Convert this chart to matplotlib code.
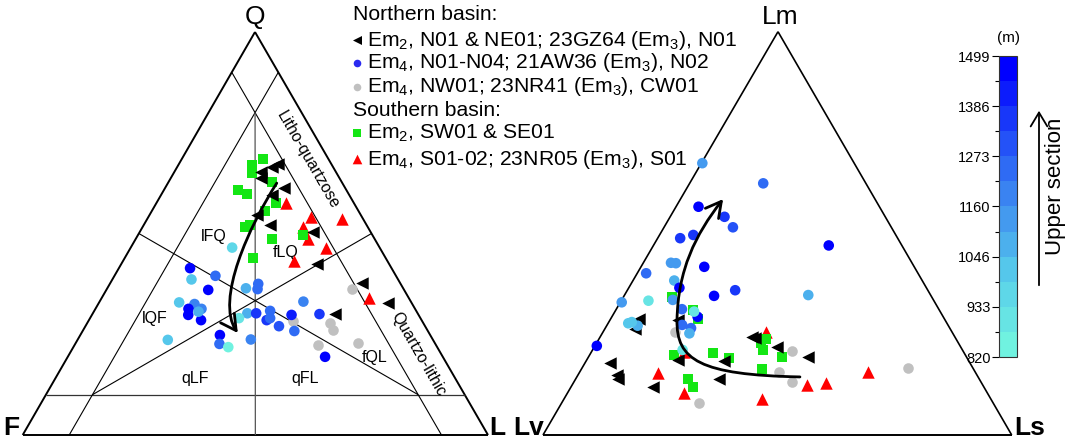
import numpy as np
import matplotlib
matplotlib.use("Agg")
import matplotlib.pyplot as plt
from matplotlib.path import Path
from matplotlib.patches import FancyArrowPatch
from matplotlib.colors import LinearSegmentedColormap, ListedColormap, BoundaryNorm
import matplotlib.colorbar as mcolorbar

plt.rcParams['font.family'] = ['Liberation Sans', 'DejaVu Sans']
plt.rcParams['mathtext.fontset'] = 'custom'
plt.rcParams['mathtext.rm'] = 'Liberation Sans'
plt.rcParams['mathtext.it'] = 'Liberation Sans:italic'
plt.rcParams['mathtext.bf'] = 'Liberation Sans:bold'

# ---------------- data: QFL (Q, F, L in %) ----------------
qfl_em2_north = [(67.2, 11.4, 21.4), (66.6, 13.1, 20.3), (65.3, 16.1, 18.6), (63.7, 16.9, 19.4),
                 (61.2, 13.2, 25.6), (59.6, 16.6, 23.8), (54.6, 22.4, 23.0), (52.1, 20.8, 27.1),
                 (50.4, 12.3, 37.3), (42.4, 15.6, 42.0), (37.6, 8.3, 54.1), (32.7, 5.2, 62.1),
                 (30.0, 17.9, 52.1)]
qfl_em4_north = [(46.5, 31.7, 21.8), (41.4, 43.3, 15.3), (39.5, 38.8, 21.7), (38.6, 44.4, 17.0),
                 (36.0, 42.1, 21.9), (36.4, 33.8, 29.8), (37.5, 30.6, 31.9), (36.2, 31.4, 32.4),
                 (32.9, 49.9, 17.2), (32.5, 46.8, 20.7), (31.3, 48.7, 20.0), (31.3, 45.9, 22.8),
                 (29.8, 49.5, 20.7), (28.5, 47.4, 24.1), (30.6, 46.9, 22.5), (33.1, 23.1, 43.8),
                 (30.2, 36.6, 33.2), (30.2, 34.7, 35.1), (30.8, 31.4, 37.8), (28.5, 33.3, 38.2),
                 (29.0, 32.3, 38.7), (27.0, 31.4, 41.6), (29.8, 27.3, 42.9), (30.0, 21.2, 48.8),
                 (25.8, 28.7, 45.5), (29.0, 39.0, 32.0), (23.6, 57.0, 19.4), (24.8, 45.2, 30.0),
                 (22.6, 46.4, 31.0), (21.8, 44.9, 33.3), (23.7, 39.1, 37.2), (19.4, 25.3, 55.3)]
qfl_em4_north_depth = [950, 1470, 1250, 1020, 1470, 1050, 1250, 1250,
                       1020, 1200, 1470, 1200, 1470, 1470, 1050, 1200,
                       1050, 1380, 1230, 1330, 1250, 1300, 1420, 1330,
                       1250, 930, 1020, 1470, 1270, 860, 1200, 1470]
qfl_em4_nw = [(36.2, 11.0, 52.8), (28.3, 27.7, 44.0), (27.7, 20.1, 52.2), (26.1, 20.2, 53.7),
              (22.3, 25.3, 52.4), (22.8, 16.5, 60.7)]
qfl_em2_south = [(68.5, 14.1, 17.4), (67.0, 17.2, 15.8), (64.9, 18.3, 16.8), (62.9, 15.0, 22.1),
                 (60.8, 23.2, 16.0), (59.7, 22.0, 18.3), (57.5, 16.8, 25.7), (55.6, 20.1, 24.3),
                 (52.1, 25.1, 22.8), (51.7, 26.3, 22.0), (48.6, 22.1, 29.3), (49.6, 14.9, 35.5),
                 (43.9, 28.5, 27.6)]
qfl_em4_south = [(57.5, 14.7, 27.8), (54.2, 10.9, 34.9), (53.6, 4.5, 41.9), (51.7, 13.8, 34.5),
                 (48.6, 14.3, 37.1), (46.3, 11.6, 42.1), (43.2, 20.0, 36.8), (34.1, 8.4, 57.5)]

# ---------------- data: LmLvLs (Lm, Lv, Ls in %) ----------------
lml_em2_north = [(28.7, 65.2, 6.1), (26.2, 67.3, 6.5), (17.8, 76.8, 5.4), (14.9, 76.7, 8.4),
                 (13.8, 77.1, 9.1), (11.8, 70.6, 17.6), (28.5, 56.9, 14.6), (18.6, 62.0, 19.4),
                 (18.4, 52.2, 29.4), (13.8, 55.5, 30.7), (24.4, 43.2, 32.4), (24.0, 42.7, 33.3),
                 (21.9, 39.1, 39.0), (19.3, 33.9, 46.8)]
lml_em4_north = [(67.4, 32.4, 0.2), (62.4, 21.9, 15.7), (56.6, 38.6, 4.8), (54.1, 34.3, 11.6),
                 (51.5, 33.8, 14.7), (48.8, 46.4, 4.8), (49.6, 43.2, 7.2), (47.0, 15.6, 37.4),
                 (42.7, 51.4, 5.9), (42.6, 50.4, 7.0), (40.1, 58.0, 1.9), (41.7, 44.8, 13.5),
                 (38.3, 52.9, 8.8), (36.5, 52.7, 10.8), (35.9, 41.1, 23.0), (34.5, 46.3, 19.2),
                 (34.7, 26.1, 39.2), (32.9, 66.8, 0.3), (33.3, 60.9, 5.8), (33.5, 55.6, 10.9),
                 (31.2, 54.8, 14.0), (29.3, 52.4, 18.3), (30.6, 52.5, 16.9), (27.7, 68.0, 4.3),
                 (27.1, 66.3, 6.6), (28.0, 67.1, 4.9), (27.3, 56.7, 16.0), (26.5, 55.2, 18.3),
                 (25.2, 56.2, 18.6), (22.1, 77.5, 0.4), (21.1, 59.7, 19.2)]
lml_em4_north_depth = [1150, 1250, 1470, 1350, 1300, 1330, 1370, 1470,
                       1150, 1150, 1250, 1470, 1080, 1470, 1380, 1470,
                       1050, 1150, 900, 1150, 1250, 1470, 920, 1020,
                       1050, 1000, 1250, 1250, 1050, 1470, 880]
lml_em4_nw = [(25.6, 59.1, 15.3), (20.8, 36.4, 42.8), (15.7, 41.8, 42.5), (13.2, 40.2, 46.6),
              (16.5, 14.0, 69.5), (7.9, 62.8, 29.3)]
lml_em2_south = [(34.3, 55.3, 10.4), (31.0, 52.5, 16.5), (28.7, 52.7, 18.6), (19.8, 62.2, 18.0),
                 (20.3, 53.7, 26.0), (19.0, 50.8, 30.2), (23.7, 40.7, 35.6), (22.7, 42.2, 35.1),
                 (21.2, 42.4, 36.4), (19.3, 39.3, 41.4), (16.4, 45.1, 38.5), (13.8, 62.1, 24.1),
                 (11.8, 62.1, 26.1)]
lml_em4_south = [(25.6, 39.7, 34.7), (15.3, 67.9, 16.8), (10.5, 64.6, 24.9), (20.7, 59.6, 19.7),
                 (8.9, 48.8, 42.3), (12.4, 37.5, 50.1), (12.8, 33.2, 54.0), (15.7, 22.9, 61.4)]

# trend arrows (ternary control points of Bezier curves)
qfl_trend = [(62.5, 14.1, 23.4), (52.1, 25.1, 22.8), (33.5, 41.9, 24.6), (25.3, 41.1, 33.6)]
lml_trend = [(14.4, 38.0, 47.6), (14.9, 59.1, 26.0), (18.6, 62.3, 19.1), (28.5, 57.2, 14.3),
             (40.9, 50.8, 8.3), (49.6, 42.8, 7.6), (58.5, 32.4, 9.1)]

depth_ticks = [820, 933, 1046, 1160, 1273, 1386, 1499]
legend_labels = [r"Em$_2$, N01 & NE01; 23GZ64 (Em$_3$), N01",
                 r"Em$_4$, N01-N04; 21AW36 (Em$_3$), N02",
                 r"Em$_4$, NW01; 23NR41 (Em$_3$), CW01",
                 r"Em$_2$, SW01 & SE01",
                 r"Em$_4$, S01-02; 23NR05 (Em$_3$), S01"]

# ---------------- layout ----------------
W, H = 1066, 444
fig = plt.figure(figsize=(W / 100, H / 100), dpi=100)
ax = fig.add_axes([0, 0, 1, 1])
ax.set_xlim(0, W)
ax.set_ylim(H, 0)
ax.axis('off')

QFL_V = {'Q': (255.0, 32.0), 'F': (22.7, 435.0), 'L': (488.0, 435.0)}
LML_V = {'Lm': (778.0, 31.7), 'Lv': (543.0, 435.0), 'Ls': (1011.7, 435.0)}


def to_xy(pts, v, keys):
    a = np.atleast_2d(np.asarray(pts, dtype=float))
    a = a / a.sum(axis=1, keepdims=True)
    P = np.array([v[k] for k in keys])
    xy = a @ P
    return xy[:, 0], xy[:, 1]


def qfl(pts):
    return to_xy(pts, QFL_V, ('Q', 'F', 'L'))


def lml(pts):
    return to_xy(pts, LML_V, ('Lm', 'Lv', 'Ls'))


def seg(fn, a, b, **kw):
    x, y = fn([a, b])
    ax.plot(x, y, solid_capstyle='butt', **kw)


# --- QFL frame ---
edge_kw = dict(color='black', lw=1.4)
inner_kw = dict(color='black', lw=0.8)
seg(qfl, (100, 0, 0), (0, 100, 0), **edge_kw)
seg(qfl, (100, 0, 0), (0, 0, 100), **edge_kw)
seg(qfl, (0, 100, 0), (0, 0, 100), **edge_kw)
seg(qfl, (10, 90, 0), (10, 0, 90), color='#333333', lw=0.9)           # Q = 10
seg(qfl, (90, 10, 0), (0, 10, 90), **inner_kw)                         # F = 10
seg(qfl, (90, 0, 10), (0, 90, 10), **inner_kw)                         # L = 10
seg(qfl, (80, 10, 10), (0, 50, 50), color='#555555', lw=0.9)           # F = L
seg(qfl, (50, 50, 0), (10, 10, 80), **inner_kw)                        # Q = F
seg(qfl, (50, 0, 50), (10, 80, 10), **inner_kw)                        # Q = L

# --- LmLvLs frame ---
seg(lml, (100, 0, 0), (0, 100, 0), color='black', lw=1.2)
seg(lml, (100, 0, 0), (0, 0, 100), color='black', lw=1.2)
seg(lml, (0, 100, 0), (0, 0, 100), color='black', lw=1.4)

# --- vertex labels ---
ax.text(255, 17, 'Q', fontsize=19, ha='center', va='center')
ax.text(11, 428, 'F', fontsize=19, fontweight='bold', ha='center', va='center')
ax.text(497, 428, 'L', fontsize=19, fontweight='bold', ha='center', va='center')
ax.text(780, 17, 'Lm', fontsize=19, ha='center', va='center')
ax.text(529, 428, 'Lv', fontsize=19, fontweight='bold', ha='center', va='center')
ax.text(1030, 428, 'Ls', fontsize=19, fontweight='bold', ha='center', va='center')

# --- field labels ---
fld = dict(fontsize=11.5, ha='center', va='center')
ax.text(214, 236, 'lFQ', **fld)
ax.text(286, 252, 'fLQ', **fld)
ax.text(155, 318, 'lQF', **fld)
ax.text(195, 378, 'qLF', **fld)
ax.text(305, 378, 'qFL', **fld)
ax.text(375, 357, 'fQL', **fld)
ax.text(308, 160, 'Litho-quartzose', fontsize=11.5, rotation=-60,
        rotation_mode='anchor', ha='center', va='center')
ax.text(418, 354, 'Quartzo-lithic', fontsize=11.5, rotation=-60,
        rotation_mode='anchor', ha='center', va='center')

# --- colormap ---
base = LinearSegmentedColormap.from_list(
    'depth', [(0.44, 0.95, 0.88), (0.34, 0.80, 0.92), (0.25, 0.56, 0.94),
              (0.13, 0.30, 0.97), (0.0, 0.0, 1.0)])
bounds = np.linspace(depth_ticks[0], depth_ticks[-1], 13)
cmap = ListedColormap([base(i / 11) for i in range(12)])
norm = BoundaryNorm(bounds, cmap.N)

GREEN = '#14e614'
RED = '#ff0000'
GRAY = '#c0c0c0'
ms_c, ms_s, ms_t = 58, 52, 80


def draw(fn, em2n, em4n, depth, nw, em2s, em4s):
    x, y = fn(nw)
    ax.scatter(x, y, s=ms_c, marker='o', color=GRAY, lw=0, zorder=3)
    x, y = fn(em4s)
    ax.scatter(x, y, s=ms_t, marker='^', color=RED, lw=0, zorder=4)
    x, y = fn(em2s)
    ax.scatter(x, y, s=ms_s, marker='s', color=GREEN, lw=0, zorder=5)
    x, y = fn(em2n)
    ax.scatter(x, y, s=ms_t, marker='<', color='black', lw=0, zorder=6)
    x, y = fn(em4n)
    ax.scatter(x, y, s=ms_c, marker='o', c=depth, cmap=cmap, norm=norm, lw=0, zorder=7)


draw(qfl, qfl_em2_north, qfl_em4_north, qfl_em4_north_depth, qfl_em4_nw, qfl_em2_south, qfl_em4_south)
draw(lml, lml_em2_north, lml_em4_north, lml_em4_north_depth, lml_em4_nw, lml_em2_south, lml_em4_south)

# --- trend arrows ---
astyle = '->,head_length=0.55,head_width=0.3'
x, y = qfl(qfl_trend)
p = Path(np.column_stack([x, y]), [Path.MOVETO, Path.CURVE4, Path.CURVE4, Path.CURVE4])
ax.add_patch(FancyArrowPatch(path=p, arrowstyle=astyle, mutation_scale=20, lw=2,
                             color='black', zorder=9))
x, y = lml(lml_trend)
p = Path(np.column_stack([x, y]), [Path.MOVETO] + [Path.CURVE4] * 6)
ax.add_patch(FancyArrowPatch(path=p, arrowstyle=astyle, mutation_scale=20, lw=2,
                             color='black', zorder=9))

# --- legend ---
lx, tx = 357, 367
lg = dict(fontsize=15.2, ha='left', va='center')
ax.text(353, 15, 'Northern basin:', **lg)
ax.text(353, 110, 'Southern basin:', **lg)
rows = [40, 63, 87, 133, 159]
ax.scatter([lx], [rows[0]], s=42, marker='<', color='black', lw=0)
ax.scatter([lx], [rows[1]], s=30, marker='o', color='#2a2af0', lw=0)
ax.scatter([lx], [rows[2]], s=30, marker='o', color=GRAY, lw=0)
ax.scatter([lx], [rows[3]], s=36, marker='s', color=GREEN, lw=0)
ax.scatter([lx], [rows[4]], s=48, marker='^', color=RED, lw=0)
for r, t in zip(rows, legend_labels):
    ax.text(tx, r, t, **lg)

# --- colorbar ---
cax = fig.add_axes([999 / W, 1 - 357 / H, 18 / W, 301 / H])
cb = mcolorbar.ColorbarBase(cax, cmap=cmap, norm=norm, boundaries=bounds,
                            orientation='vertical', ticks=depth_ticks)
cb.ax.yaxis.set_ticks_position('left')
cb.ax.set_yticklabels([str(t) for t in depth_ticks], fontsize=10.5)
cb.ax.set_yticks(bounds[1::2], minor=True)
cb.ax.tick_params(which='major', length=5, width=0.8, pad=1)
cb.ax.tick_params(which='minor', length=3, width=0.8, left=True)
cb.outline.set_linewidth(0.8)
cb.outline.set_edgecolor('#333333')
ax.text(1008, 38, '(m)', fontsize=11, ha='center', va='center')
ax.annotate('', xy=(1039, 108), xytext=(1039, 288),
            arrowprops=dict(arrowstyle='->,head_length=0.5,head_width=0.3', lw=1.3, color='black',
                            mutation_scale=20))
ax.text(1056, 186, 'Upper section', fontsize=16, rotation=90, ha='center', va='center')

fig.savefig('out.png', dpi=100)
